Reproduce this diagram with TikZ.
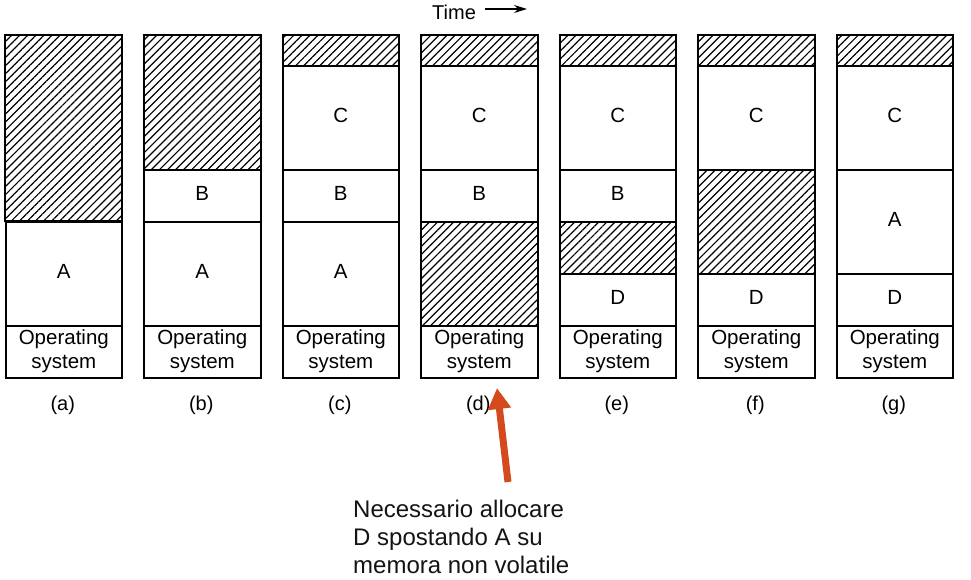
\documentclass[tikz,border=0pt]{standalone}
\usepackage{fontspec}
\setmainfont{Liberation Sans}
\usetikzlibrary{patterns.meta,arrows.meta}
\definecolor{arrowred}{HTML}{D44A1C}
\definecolor{notetext}{HTML}{141414}
\tikzset{
  seg/.style={draw=black, line width=2.1pt, minimum width=116.5pt, inner sep=0pt,
    anchor=north west, font=\fontsize{20.5}{24}\selectfont, align=center},
  letter/.style={seg, text depth=4pt},
  hole/.style={seg, pattern={Lines[angle=45,distance=5.7pt,line width=1.2pt]}},
  collabel/.style={font=\fontsize{20}{24}\selectfont, inner sep=0pt},
}
\newcommand\memseg[6]{%
  \node[#5, minimum height={#4-#3}] (#1) at (#2,#3) {#6};}
\begin{document}
\begin{tikzpicture}[x=1pt,y=-1pt]
\useasboundingbox (0,0) rectangle (971,579);
% (a)
\memseg{a1}{4.5}{34}{220.5}{hole}{}
\memseg{a2}{4.5}{220.5}{324.5}{letter}{A}
\memseg{a3}{4.5}{324.5}{376.5}{seg}{Operating\\system}
% (b)
\memseg{b1}{143}{34}{168.5}{hole}{}
\memseg{b2}{143}{168.5}{220.5}{letter}{B}
\memseg{b3}{143}{220.5}{324.5}{letter}{A}
\memseg{b4}{143}{324.5}{376.5}{seg}{Operating\\system}
% (c)
\memseg{c1}{281.5}{34}{65}{hole}{}
\memseg{c2}{281.5}{65}{168.5}{letter}{C}
\memseg{c3}{281.5}{168.5}{220.5}{letter}{B}
\memseg{c4}{281.5}{220.5}{324.5}{letter}{A}
\memseg{c5}{281.5}{324.5}{376.5}{seg}{Operating\\system}
% (d)
\memseg{d1}{420}{34}{65}{hole}{}
\memseg{d2}{420}{65}{168.5}{letter}{C}
\memseg{d3}{420}{168.5}{220.5}{letter}{B}
\memseg{d4}{420}{220.5}{324.5}{hole}{}
\memseg{d5}{420}{324.5}{376.5}{seg}{Operating\\system}
% (e)
\memseg{e1}{558.5}{34}{65}{hole}{}
\memseg{e2}{558.5}{65}{168.5}{letter}{C}
\memseg{e3}{558.5}{168.5}{220.5}{letter}{B}
\memseg{e4}{558.5}{220.5}{272.5}{hole}{}
\memseg{e5}{558.5}{272.5}{324.5}{letter}{D}
\memseg{e6}{558.5}{324.5}{376.5}{seg}{Operating\\system}
% (f)
\memseg{f1}{697}{34}{65}{hole}{}
\memseg{f2}{697}{65}{168.5}{letter}{C}
\memseg{f3}{697}{168.5}{272.5}{hole}{}
\memseg{f4}{697}{272.5}{324.5}{letter}{D}
\memseg{f5}{697}{324.5}{376.5}{seg}{Operating\\system}
% (g)
\memseg{g1}{835.5}{34}{65}{hole}{}
\memseg{g2}{835.5}{65}{168.5}{letter}{C}
\memseg{g3}{835.5}{168.5}{272.5}{letter}{A}
\memseg{g4}{835.5}{272.5}{324.5}{letter}{D}
\memseg{g5}{835.5}{324.5}{376.5}{seg}{Operating\\system}
% column labels
\node[collabel] (la) at (62.75,405) {(a)};
\node[collabel] (lb) at (201.25,405) {(b)};
\node[collabel] (lc) at (339.75,405) {(c)};
\node[collabel] (ld) at (478.25,405) {(d)};
\node[collabel] (le) at (616.75,405) {(e)};
\node[collabel] (lf) at (755.25,405) {(f)};
\node[collabel] (lg) at (893.75,405) {(g)};
% time
\node[anchor=base west, inner sep=0pt, font=\fontsize{20}{24}\selectfont] (time) at (432,19) {Time};
\coordinate (tstart) at (485,9);
\coordinate (tend) at (527,9);
\draw[line width=1.3pt, -{Stealth[length=13pt,width=8pt]}] (tstart) -- (tend);
% note arrow
\coordinate (ntail) at (508,482);
\coordinate (ntip) at (497,388);
\draw[arrowred, line width=7pt, -{Triangle[length=21pt,width=22pt]}] (ntail) -- (ntip);
\node[anchor=north west, align=left, inner sep=0pt, text=notetext,
  font=\fontsize{24}{28}\selectfont] (note) at (353,500)
  {Necessario allocare\\D spostando A su\\memora non volatile};
\end{tikzpicture}
\end{document}
